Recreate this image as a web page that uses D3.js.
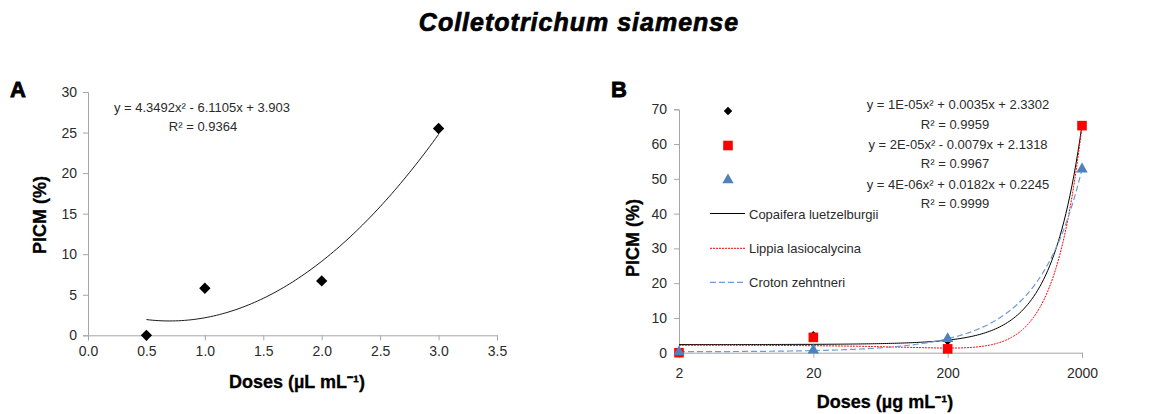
<!DOCTYPE html>
<html><head><meta charset="utf-8">
<script src="https://cdn.jsdelivr.net/npm/d3@7"></script>
<style>body{margin:0;background:#fff}svg{display:block}</style>
</head><body><svg id="c" width="1160" height="414"></svg>
<script>
const title = "Colletotrichum siamense";
// Panel A
const dosesA = [0.5, 1.0, 2.0, 3.0];
const picmA = [0, 5.8, 6.7, 25.5];
const xTicksA = [0, 0.5, 1.0, 1.5, 2.0, 2.5, 3.0, 3.5];
const yTicksA = [0, 5, 10, 15, 20, 25, 30];
const eqA = ["y = 4.3492x² - 6.1105x + 3.903", "R² = 0.9364"];
// Panel B
const dosesB = [2, 20, 200, 2000];
const copaifera = [0, 5.0, 3.35, 65.5];
const lippia = [0, 4.4, 1.1, 65.3];
const croton = [0.2, 0.7, 4.0, 52.8];
const namesB = ["Copaifera luetzelburgii", "Lippia lasiocalycina", "Croton zehntneri"];
const xTicksB = [2, 20, 200, 2000];
const yTicksB = [0, 10, 20, 30, 40, 50, 60, 70];
const eqB = ["y = 1E-05x² + 0.0035x + 2.3302", "R² = 0.9959",
             "y = 2E-05x² - 0.0079x + 2.1318", "R² = 0.9967",
             "y = 4E-06x² + 0.0182x + 0.2245", "R² = 0.9999"];

const svg = d3.select("#c");
const numFont = "'Liberation Sans',Arial,sans-serif";
const boldFont = "'Liberation Sans',Arial,sans-serif";
const axisCol = "#a6a6a6";
const txtCol = "#2b2b2b";

// quadratic least-squares fit of the data points (trend line)
function fitQuad(xs, ys) {
  const S = [[0,0,0],[0,0,0],[0,0,0]], T = [0,0,0];
  xs.forEach((x, i) => {
    const p = [1, x, x*x];
    for (let r = 0; r < 3; r++) { T[r] += p[r]*ys[i]; for (let c = 0; c < 3; c++) S[r][c] += p[r]*p[c]; }
  });
  const M = S.map((row, i) => [...row, T[i]]);
  for (let i = 0; i < 3; i++) {
    let mx = i; for (let k = i+1; k < 3; k++) if (Math.abs(M[k][i]) > Math.abs(M[mx][i])) mx = k;
    [M[i], M[mx]] = [M[mx], M[i]];
    for (let k = i+1; k < 3; k++) { const f = M[k][i]/M[i][i]; for (let j = i; j < 4; j++) M[k][j] -= f*M[i][j]; }
  }
  const b = [0,0,0];
  for (let i = 2; i >= 0; i--) { let s = M[i][3]; for (let j = i+1; j < 3; j++) s -= M[i][j]*b[j]; b[i] = s/M[i][i]; }
  return x => b[0] + b[1]*x + b[2]*x*x;
}

// Title
svg.append("text").attr("x", 579).attr("y", 31).attr("text-anchor", "middle")
  .attr("font-family", boldFont).attr("font-weight", "bold").attr("font-style", "italic")
  .attr("font-size", 25).attr("fill", "#000").attr("stroke", "#000").attr("stroke-width", 0.7)
  .attr("letter-spacing", 1).text(title);

function panelLetter(t, x, y) {
  svg.append("text").attr("x", x).attr("y", y).attr("font-family", boldFont)
    .attr("font-weight", "bold").attr("font-size", 22).attr("fill", "#000")
    .attr("stroke", "#000").attr("stroke-width", 0.8).text(t);
}
function styleAxis(g) {
  g.select(".domain").attr("stroke", axisCol);
  g.selectAll(".tick line").attr("stroke", axisCol);
  g.selectAll(".tick text").attr("font-family", numFont).attr("font-size", 14).attr("fill", txtCol);
}
function axisTitle(t, x, y, rot) {
  svg.append("text").attr("transform", `translate(${x},${y}) rotate(${rot})`).attr("text-anchor", "middle")
    .attr("font-family", boldFont).attr("font-weight", "bold").attr("font-size", 18)
    .attr("fill", "#000").attr("stroke", "#000").attr("stroke-width", 0.3).text(t);
}
function diamondPath(size) { return d3.symbol(d3.symbolSquare, size)(); }

// ---------- Panel A ----------
{
  const x = d3.scaleLinear().domain([0, 3.5]).range([88, 497]);
  const y = d3.scaleLinear().domain([0, 30]).range([335.3, 92]);
  const gx = svg.append("g").attr("transform", `translate(0,${y(0)})`)
    .call(d3.axisBottom(x).tickValues(xTicksA).tickFormat(d3.format(".1f")).tickSize(5).tickPadding(6));
  styleAxis(gx);
  const gy = svg.append("g").attr("transform", `translate(${x(0)},0)`)
    .call(d3.axisLeft(y).tickValues(yTicksA).tickSize(5).tickPadding(6));
  styleAxis(gy);

  const f = fitQuad(dosesA, picmA);
  const xs = d3.range(0, 101).map(i => dosesA[0] + (dosesA[3]-dosesA[0])*i/100);
  svg.append("path").datum(xs).attr("fill", "none").attr("stroke", "#000").attr("stroke-width", 0.9)
    .attr("d", d3.line().x(d => x(d)).y(d => y(f(d))));
  svg.selectAll(".ptA").data(dosesA).enter().append("path")
    .attr("d", diamondPath(64)).attr("fill", "#000")
    .attr("transform", (d, i) => `translate(${x(d)},${y(picmA[i])}) rotate(45)`);

  svg.selectAll(".eqA").data(eqA).enter().append("text")
    .attr("x", (d, i) => i === 0 ? 202 : 203).attr("y", (d, i) => 112 + i*19)
    .attr("text-anchor", "middle").attr("font-family", numFont).attr("font-size", 13).attr("fill", txtCol)
    .text(d => d);

  axisTitle("PICM (%)", 46, 215, -90);
  axisTitle("Doses (µL mL⁻¹)", 297, 388, 0);
  panelLetter("A", 10, 97);
}

// ---------- Panel B ----------
{
  const x = d3.scaleLog().domain([2, 2000]).range([679, 1082]);
  const y = d3.scaleLinear().domain([0, 70]).range([352.7, 109.3]);
  const gx = svg.append("g").attr("transform", `translate(0,${y(0)})`)
    .call(d3.axisBottom(x).tickValues(xTicksB).tickFormat(d3.format("d")).tickSize(5).tickPadding(10));
  styleAxis(gx);
  const gy = svg.append("g").attr("transform", `translate(${x(2)},0)`)
    .call(d3.axisLeft(y).tickValues(yTicksB).tickSize(5).tickPadding(7));
  styleAxis(gy);

  const series = [
    {vals: copaifera, color: "#000", dash: null, width: 1},
    {vals: lippia, color: "#ff0000", dash: "2,1", width: 1},
    {vals: croton, color: "#6f9ad8", dash: "6,3", width: 1.2}
  ];
  const xs = d3.range(0, 201).map(i => Math.pow(10, Math.log10(2) + 3*i/200));
  series.forEach(s => {
    const f = fitQuad(dosesB, s.vals);
    svg.append("path").datum(xs).attr("fill", "none").attr("stroke", s.color)
      .attr("stroke-width", s.width).attr("stroke-dasharray", s.dash)
      .attr("d", d3.line().x(d => x(d)).y(d => y(f(d))));
  });
  const markers = [
    {vals: copaifera, d: diamondPath(36), fill: "#000", rot: 45},
    {vals: lippia, d: d3.symbol(d3.symbolSquare, 92)(), fill: "#ff0000", rot: 0},
    {vals: croton, d: d3.symbol(d3.symbolTriangle, 56)(), fill: "#4f81bd", rot: 0}
  ];
  markers.forEach(m => {
    svg.append("g").selectAll("path").data(dosesB).enter().append("path")
      .attr("d", m.d).attr("fill", m.fill)
      .attr("transform", (d, i) => `translate(${x(d)},${y(m.vals[i])}) rotate(${m.rot})`);
  });

  // legend markers
  const legMY = [111, 145.5, 180];
  markers.forEach((m, i) => {
    svg.append("path").attr("d", m.d).attr("fill", m.fill)
      .attr("transform", `translate(728,${legMY[i]}) rotate(${m.rot})`);
  });
  const legLY = [213.5, 248.3, 282.3];
  series.forEach((s, i) => {
    svg.append("line").attr("x1", 710).attr("x2", 745).attr("y1", legLY[i]).attr("y2", legLY[i])
      .attr("stroke", s.color).attr("stroke-width", s.width).attr("stroke-dasharray", s.dash);
    svg.append("text").attr("x", 749).attr("y", legLY[i] + 5).attr("font-family", numFont)
      .attr("font-size", 13).attr("fill", txtCol).text(namesB[i]);
  });

  svg.selectAll(".eqB").data(eqB).enter().append("text")
    .attr("x", (d, i) => i % 2 === 0 ? 958 : 955)
    .attr("y", (d, i) => [109, 128.5, 148.5, 167.5, 189, 208][i])
    .attr("text-anchor", "middle").attr("font-family", numFont).attr("font-size", 13).attr("fill", txtCol)
    .text(d => d);

  axisTitle("PICM (%)", 639, 238, -90);
  axisTitle("Doses (µg mL⁻¹)", 885, 408, 0);
  panelLetter("B", 611, 97);
}
</script></body></html>
